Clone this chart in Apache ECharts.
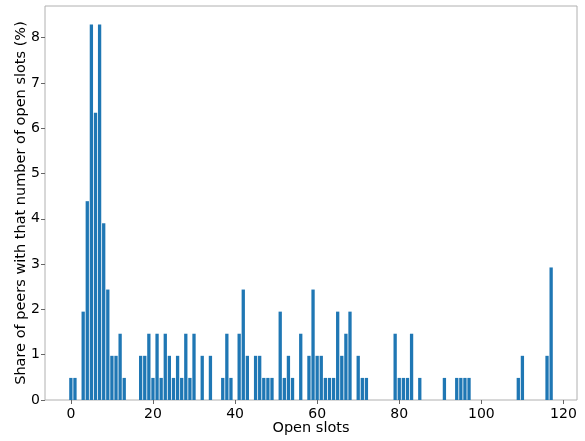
<!DOCTYPE html>
<html>
<head>
<meta charset="utf-8">
<script src="https://cdn.jsdelivr.net/npm/echarts@6/dist/echarts.min.js"></script>
<style>
  html, body { margin: 0; padding: 0; background: #fff; }
  #chart { width: 585px; height: 441px; }
</style>
</head>
<body>
<div id="chart"></div>
<script>
// number of open slots and how many of the 205 peers had it
var slots = [0, 1, 3, 4, 5, 6, 7, 8, 9, 10, 11, 12, 13,
  17, 18, 19, 20, 21, 22, 23, 24, 25, 26, 27, 28, 29, 30,
  32, 34, 37, 38, 39, 41, 42, 43, 45, 46, 47, 48, 49,
  51, 52, 53, 54, 56, 58, 59, 60, 61, 62, 63, 64, 65, 66, 67, 68,
  70, 71, 72, 79, 80, 81, 82, 83, 85,
  91, 94, 95, 96, 97, 109, 110, 116, 117];
var peerCounts = [1, 1, 4, 9, 17, 13, 17, 8, 5, 2, 2, 3, 1,
  2, 2, 3, 1, 3, 1, 3, 2, 1, 2, 1, 3, 1, 3,
  2, 2, 1, 3, 1, 3, 5, 2, 2, 2, 1, 1, 1,
  4, 1, 2, 1, 3, 2, 5, 2, 2, 1, 1, 1, 4, 2, 3, 4,
  2, 1, 1, 3, 1, 1, 1, 3, 1,
  1, 1, 1, 1, 1, 1, 2, 2, 6];
var totalPeers = 205;
var xTicks = [0, 20, 40, 60, 80, 100, 120];
var yTicks = [0, 1, 2, 3, 4, 5, 6, 7, 8];

var share = slots.map(function (s, i) {
  return [s, peerCounts[i] / totalPeers * 100];
});

var font = "DejaVu Sans";
var myChart = echarts.init(document.getElementById("chart"));
myChart.setOption({
  animation: false,
  backgroundColor: "#ffffff",
  grid: {
    left: 45, right: 8, top: 6, bottom: 37,
    show: true, borderColor: "#b0b0b0", borderWidth: 1
  },
  xAxis: {
    type: "value",
    min: -6.3,
    max: 123.3,
    name: "Open slots",
    nameLocation: "middle",
    nameGap: 21,
    nameMoveOverlap: false,
    nameTextStyle: { fontFamily: font, fontSize: 14.5, color: "#000" },
    splitLine: { show: false },
    axisLine: { show: false, onZero: false },
    axisTick: { show: true, inside: false, length: 4, customValues: xTicks,
      lineStyle: { color: "#666" } },
    axisLabel: { customValues: xTicks, margin: 7,
      fontFamily: font, fontSize: 14, color: "#000" }
  },
  yAxis: {
    type: "value",
    min: 0,
    max: 8.7,
    name: "Share of peers with that number of open slots (%)",
    nameLocation: "middle",
    nameGap: 16,
    nameMoveOverlap: false,
    nameTextStyle: { fontFamily: font, fontSize: 14.5, color: "#000" },
    splitLine: { show: false },
    axisLine: { show: false, onZero: false },
    axisTick: { show: true, inside: false, length: 4, customValues: yTicks,
      lineStyle: { color: "#666" } },
    axisLabel: { customValues: yTicks, margin: 5,
      fontFamily: font, fontSize: 14, color: "#000" }
  },
  series: [
    {
      type: "bar",
      data: share,
      barWidth: 3.3,
      itemStyle: { color: "#1f77b4" }
    }
  ]
});
</script>
</body>
</html>
